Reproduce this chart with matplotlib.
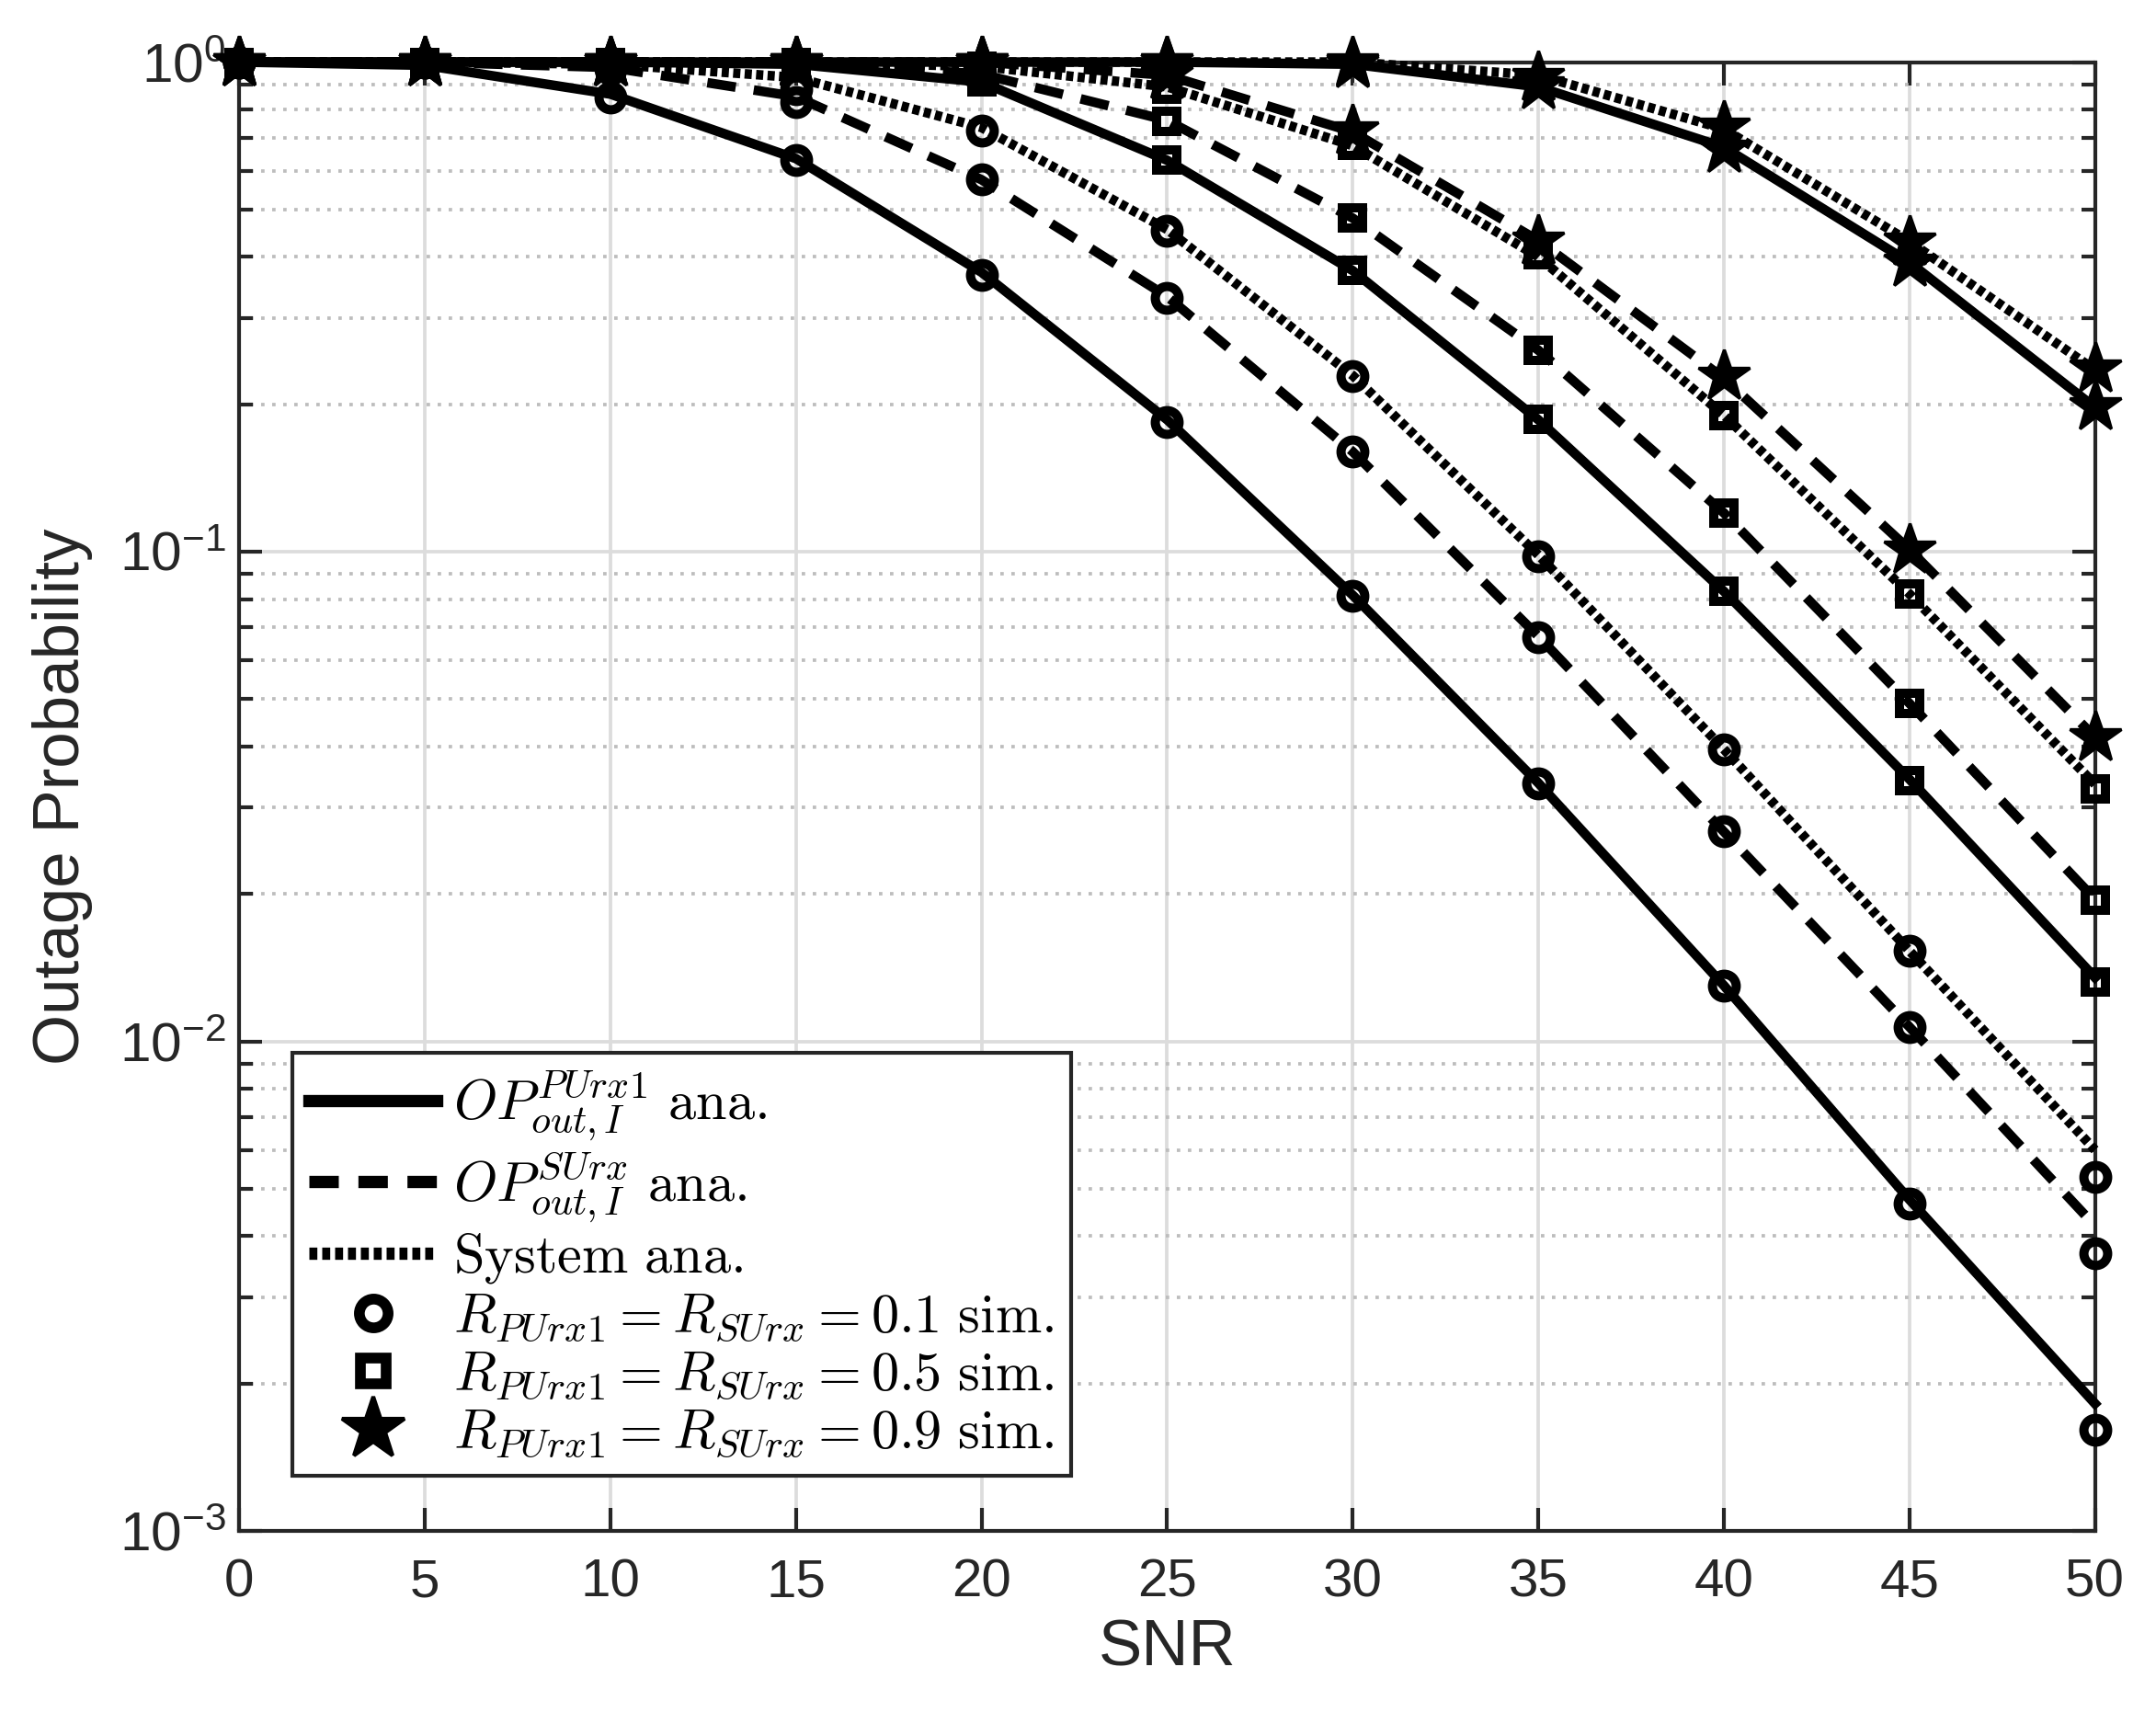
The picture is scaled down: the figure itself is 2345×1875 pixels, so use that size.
"""Outage probability vs SNR: analytical curves and simulation markers."""
import math

import matplotlib

matplotlib.use("Agg")
import matplotlib.pyplot as plt
from matplotlib.lines import Line2D
from matplotlib.ticker import FixedLocator, FuncFormatter, LogLocator, NullFormatter

plt.rcParams["font.family"] = ["Liberation Sans", "DejaVu Sans"]
plt.rcParams["mathtext.fontset"] = "cm"
plt.rcParams["axes.unicode_minus"] = False

snr = [0, 5, 10, 15, 20, 25, 30, 35, 40, 45, 50]

# R_PUrx1 = R_SUrx = 0.1
pu_ana_01 = [1.0, 0.985, 0.86, 0.635, 0.372, 0.186, 0.0815, 0.0337, 0.0130, 0.00475, 0.00182]
su_ana_01 = [1.0, 1.0, 0.975, 0.85, 0.575, 0.332, 0.160, 0.0672, 0.0268, 0.0107, 0.0042]
sys_ana_01 = [1.0, 1.0, 0.99, 0.93, 0.735, 0.455, 0.229, 0.0985, 0.0395, 0.0153, 0.0060]
pu_sim_01 = [1.0, 1.0, 0.845, 0.632, 0.368, 0.184, 0.0812, 0.0336, 0.0130, 0.00467, 0.00161]
su_sim_01 = [1.0, 1.0, 0.97, 0.83, 0.575, 0.330, 0.160, 0.0670, 0.0269, 0.0107, 0.00369]
sys_sim_01 = [1.0, 1.0, 0.99, 0.88, 0.725, 0.453, 0.2285, 0.098, 0.0394, 0.0153, 0.00528]

# R_PUrx1 = R_SUrx = 0.5
pu_ana_05 = [1.0, 1.0, 1.0, 0.99, 0.91, 0.63, 0.375, 0.186, 0.083, 0.0343, 0.0135]
su_ana_05 = [1.0, 1.0, 1.0, 1.0, 0.945, 0.76, 0.48, 0.258, 0.12, 0.049, 0.0195]
sys_ana_05 = [1.0, 1.0, 1.0, 1.0, 0.98, 0.89, 0.675, 0.40, 0.19, 0.082, 0.0335]
pu_sim_05 = [1.0, 1.0, 1.0, 0.99, 0.91, 0.63, 0.375, 0.186, 0.083, 0.0340, 0.0132]
su_sim_05 = [1.0, 1.0, 1.0, 1.0, 0.945, 0.757, 0.48, 0.258, 0.12, 0.049, 0.0194]
sys_sim_05 = [1.0, 1.0, 1.0, 1.0, 0.98, 0.88, 0.675, 0.404, 0.19, 0.082, 0.0328]

# R_PUrx1 = R_SUrx = 0.9
pu_ana_09 = [1.0, 1.0, 1.0, 1.0, 1.0, 1.0, 0.99, 0.89, 0.67, 0.39, 0.197]
su_ana_09 = [1.0, 1.0, 1.0, 1.0, 1.0, 0.94, 0.72, 0.432, 0.226, 0.101, 0.0418]
sys_ana_09 = [1.0, 1.0, 1.0, 1.0, 1.0, 1.0, 1.0, 0.94, 0.73, 0.43, 0.235]
pu_sim_09 = [1.0, 1.0, 1.0, 1.0, 1.0, 1.0, 0.99, 0.895, 0.665, 0.388, 0.198]
su_sim_09 = [1.0, 1.0, 1.0, 1.0, 1.0, 0.94, 0.725, 0.431, 0.228, 0.101, 0.0418]
sys_sim_09 = [1.0, 1.0, 1.0, 1.0, 1.0, 1.0, 1.0, 0.93, 0.736, 0.429, 0.236]

LW = 2.5
DASHED = (0, (3.0, 1.9))
DOTTED = (0, (0.75, 0.45))
GRID = "#dcdcdc"
AX = "#262626"

fig = plt.figure(figsize=(2345 / 300, 1875 / 300), dpi=300)
ax = fig.add_axes([0.111, 0.112, 0.8607, 0.852])

groups = [
    ((pu_ana_01, su_ana_01, sys_ana_01), (pu_sim_01, su_sim_01, sys_sim_01),
     dict(marker="o", ms=6.2, mew=2.4, mfc="none")),
    ((pu_ana_05, su_ana_05, sys_ana_05), (pu_sim_05, su_sim_05, sys_sim_05),
     dict(marker="s", ms=5.4, mew=2.4, mfc="none")),
    ((pu_ana_09, su_ana_09, sys_ana_09), (pu_sim_09, su_sim_09, sys_sim_09),
     dict(marker="*", ms=14, mew=0.8, mfc="k")),
]
styles = ["-", DASHED, DOTTED]

for ana, sim, mk in groups:
    for vals, ls in zip(ana, styles):
        ax.plot(snr, vals, color="k", lw=LW, ls=ls, clip_on=False, zorder=3)
    for vals in sim:
        ax.plot(snr, vals, ls="none", mec="k", clip_on=False, zorder=4, **mk)

ax.set_yscale("log")
ax.set_xlim(0, 50)
ax.set_ylim(1e-3, 1)
ax.xaxis.set_major_locator(FixedLocator(snr))
ax.yaxis.set_major_locator(LogLocator(base=10, numticks=10))
ax.yaxis.set_minor_locator(LogLocator(base=10, subs=range(2, 10), numticks=20))
ax.yaxis.set_minor_formatter(NullFormatter())
ax.yaxis.set_major_formatter(FuncFormatter(
    lambda v, _: r"$\mathregular{10^{%d}}$" % round(math.log10(v))))

ax.grid(True, which="major", color=GRID, lw=0.9, ls="-")
ax.grid(True, which="minor", axis="y", color="#bdbdbd", lw=0.9, ls=(0, (1, 2.2)))
ax.set_axisbelow(True)

for sp in ax.spines.values():
    sp.set_color(AX)
    sp.set_linewidth(1.0)
ax.tick_params(which="both", direction="in", top=True, right=True, color=AX,
               labelcolor=AX, labelsize=14, width=1.0)
ax.tick_params(axis="y", labelsize=14.5)
ax.tick_params(which="major", length=6)
ax.tick_params(which="minor", length=3.5)
ax.tick_params(axis="x", pad=7)

ax.set_xlabel("SNR", fontsize=17, color=AX, labelpad=3)
ax.set_ylabel("Outage Probability", fontsize=17, color=AX, labelpad=7)

handles = [
    Line2D([], [], color="k", lw=3.2, ls="-"),
    Line2D([], [], color="k", lw=3.2, ls=(0, (2.4, 1.6))),
    Line2D([], [], color="k", lw=3.2, ls=(0, (0.65, 0.4))),
    Line2D([], [], color="k", ls="none", marker="o", ms=7.5, mew=2.8, mfc="none"),
    Line2D([], [], color="k", ls="none", marker="s", ms=6.5, mew=2.8, mfc="none"),
    Line2D([], [], color="k", ls="none", marker="*", ms=17, mfc="k"),
]
labels = [
    r"$OP_{out,I}^{PUrx1}\ \mathrm{ana.}$",
    r"$OP_{out,I}^{SUrx}\ \mathrm{ana.}$",
    r"$\mathrm{System\ ana.}$",
    r"$R_{PUrx1}=R_{SUrx}=0.1\ \mathrm{sim.}$",
    r"$R_{PUrx1}=R_{SUrx}=0.5\ \mathrm{sim.}$",
    r"$R_{PUrx1}=R_{SUrx}=0.9\ \mathrm{sim.}$",
]
leg = ax.legend(handles, labels, loc="lower left", bbox_to_anchor=(0.0287, 0.0375),
                borderaxespad=0, fontsize=14.5, handlelength=2.3, handletextpad=0.3,
                labelspacing=0.12, borderpad=0.3, fancybox=False, framealpha=1)
leg.get_frame().set_edgecolor(AX)
leg.get_frame().set_linewidth(1.0)

fig.savefig("out.png", dpi=300)
